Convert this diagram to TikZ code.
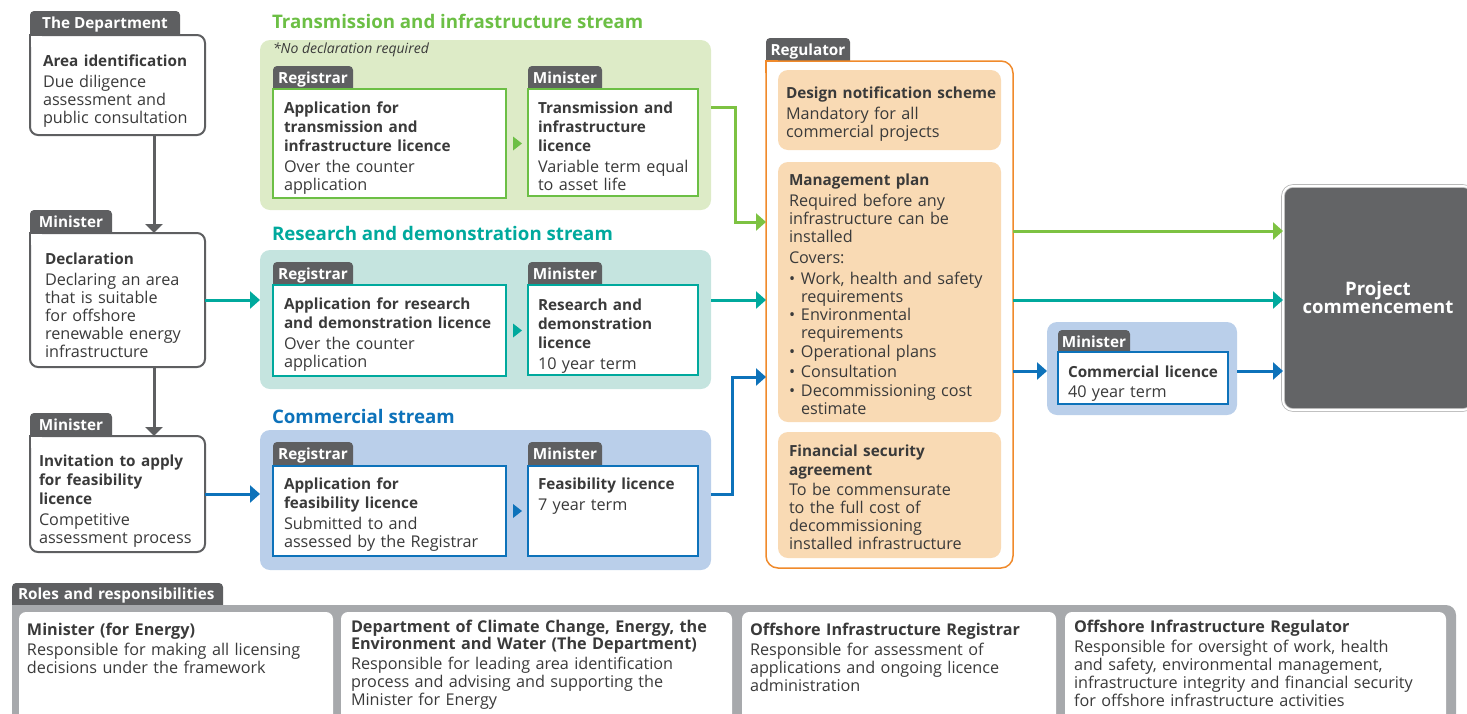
\documentclass[tikz,border=0pt]{standalone}
\usepackage{fontspec}
\setmainfont{Open Sans}
\usetikzlibrary{arrows.meta}

\definecolor{tabgray}{HTML}{5E5F61}
\definecolor{ink}{HTML}{3A3A3A}
\definecolor{grn}{HTML}{6CBF45}
\definecolor{grnline}{HTML}{7DC242}
\definecolor{grnbg}{HTML}{DDEBC7}
\definecolor{tl}{HTML}{00A99D}
\definecolor{tlbg}{HTML}{C5E4DF}
\definecolor{blu}{HTML}{0D72BA}
\definecolor{blubg}{HTML}{BACFEA}
\definecolor{orng}{HTML}{F08A2B}
\definecolor{peach}{HTML}{F9DAB4}
\definecolor{rolegray}{HTML}{A7A9AC}
\definecolor{projgray}{HTML}{636466}

\hyphenpenalty=10000
\newcommand{\boxhead}[1]{{\fontsize{15.3}{19}\bfseries #1\par}\vspace{2.5pt}}
\newcommand{\rolehead}[1]{{\fontsize{16.2}{17}\bfseries #1\par}\vspace{2.5pt}}
\newcommand{\regbullet}[1]{\par\vspace{1.5pt}\noindent\makebox[12pt][l]{•}\parbox[t]{200pt}{\raggedright #1}\par}
% square off the top left corner that sits under a tab
\newcommand{\sqcorner}[3]{%
  \fill[white] (#1.north west) rectangle ++(12,12);
  \draw[#2, line width=#3] ([yshift=-12pt]#1.north west) -- (#1.north west) -- ([xshift=12pt]#1.north west);}

\begin{document}
\begin{tikzpicture}[x=1pt,y=-1pt]
\tikzset{every node/.style={inner sep=0pt, outer sep=0pt}}
\tikzset{tabnode/.style={anchor=north west, fill=tabgray, rounded corners=4pt, text=white,
  font=\bfseries\fontsize{15.3}{16}\selectfont, minimum width=#1, text height=17.5pt, text depth=10.5pt}}
\tikzset{box/.style 2 args={anchor=north west, minimum width=#1, minimum height=#2}}
\tikzset{lbox/.style={draw=tabgray, line width=2pt, fill=white, rounded corners=8pt}}
\tikzset{sbox/.style={draw=#1, line width=1.5pt, fill=white}}
\tikzset{txt/.style={anchor=north west, text width=420pt, align=left, text=ink, font=\fontsize{16.2}{18}\selectfont}}
\tikzset{streamtitle/.style={anchor=west, text=#1, font=\bfseries\fontsize{18.7}{20}\selectfont}}
\tikzset{darr/.style={draw=tabgray, line width=3pt, -{Triangle[length=9pt,width=17pt]}}}
\tikzset{carr/.style={draw=#1, line width=3pt, -{Triangle[length=10pt,width=17pt]}}}

\useasboundingbox (0,0) rectangle (1467,713);

% left column
\node[tabnode=150pt] (depttab) at (30,11) {The Department};
\node[lbox, box={175pt}{100pt}] (area) at (30,35) {};
\sqcorner{area}{tabgray}{2pt}
\node[txt] (areatxt) at (43,55) {\boxhead{Area identification}Due diligence\\assessment and\\public consultation};

\node[tabnode=82pt] (decltab) at (30,210) {Minister};
\node[lbox, box={175pt}{134pt}] (decl) at (30,233) {};
\sqcorner{decl}{tabgray}{2pt}
\node[txt] (decltxt) at (45,253) {\boxhead{Declaration}Declaring an area\\that is suitable\\for offshore\\renewable energy\\infrastructure};

\node[tabnode=82pt] (invtab) at (30,413) {Minister};
\node[lbox, box={175pt}{116pt}] (invit) at (30,436) {};
\sqcorner{invit}{tabgray}{2pt}
\node[txt] (invtxt) at (39,455) {\boxhead{Invitation to apply\\for feasibility\\licence}Competitive\\assessment process};

% transmission stream
\node[streamtitle=grn] (ttitle) at (272,21) {Transmission and infrastructure stream};
\node[box={451pt}{170pt}, fill=grnbg, rounded corners=10pt] (tbg) at (260,40) {};
\node[anchor=west, text=ink, font=\itshape\fontsize{14}{15}\selectfont] (tnote) at (273,50) {*No declaration required};
\node[tabnode=80pt] (tregtab) at (273,66) {Registrar};
\node[tabnode=74pt] (tmintab) at (528,66) {Minister};
\node[sbox=grn, box={233pt}{109pt}] (tapp) at (273,89) {};
\node[sbox=grn, box={170pt}{107pt}] (tmin) at (528,89) {};
\fill[grn] (tapp.east) ++(7,-7) -- ++(9,7) -- ++(-9,7) -- cycle;
\node[txt] (tapptxt) at (284,102) {\boxhead{Application for\\transmission and\\infrastructure licence}Over the counter\\application};
\node[txt] (tmintxt) at (538,102) {\boxhead{Transmission and\\infrastructure\\licence}Variable term equal\\to asset life};

% research stream
\node[streamtitle=tl] (rtitle) at (272,233) {Research and demonstration stream};
\node[box={451pt}{139pt}, fill=tlbg, rounded corners=10pt] (rbg) at (260,250) {};
\node[tabnode=80pt] (rregtab) at (273,262) {Registrar};
\node[tabnode=74pt] (rmintab) at (528,262) {Minister};
\node[sbox=tl, box={233pt}{91pt}] (rapp) at (273,285) {};
\node[sbox=tl, box={170pt}{90pt}] (rmin) at (528,285) {};
\fill[tl] (rapp.east) ++(7,-7) -- ++(9,7) -- ++(-9,7) -- cycle;
\node[txt] (rapptxt) at (284,298) {\boxhead{Application for research\\and demonstration licence}Over the counter\\application};
\node[txt] (rmintxt) at (538,299) {\boxhead{Research and\\demonstration\\licence}10 year term};

% commercial stream
\node[streamtitle=blu] (ctitle) at (272,416) {Commercial stream};
\node[box={451pt}{140pt}, fill=blubg, rounded corners=10pt] (cbg) at (260,430) {};
\node[tabnode=80pt] (cregtab) at (273,442) {Registrar};
\node[tabnode=74pt] (cmintab) at (528,442) {Minister};
\node[sbox=blu, box={233pt}{90pt}] (capp) at (273,466) {};
\node[sbox=blu, box={170pt}{90pt}] (cmin) at (528,466) {};
\fill[blu] (capp.east) ++(7,-7) -- ++(9,7) -- ++(-9,7) -- cycle;
\node[txt] (capptxt) at (284,478) {\boxhead{Application for\\feasibility licence}Submitted to and\\assessed by the Registrar};
\node[txt] (cmintxt) at (538,478) {\boxhead{Feasibility licence}7 year term};

% regulator
\node[tabnode=84pt] (regtab) at (766,38) {Regulator};
\node[box={247pt}{507pt}, draw=orng, line width=1.5pt, fill=white, rounded corners=12pt] (reg) at (766,61) {};
\sqcorner{reg}{orng}{1.5pt}
\node[box={223pt}{80pt}, fill=peach, rounded corners=10pt] (dns) at (778,70) {};
\node[box={223pt}{260pt}, fill=peach, rounded corners=10pt] (mgmt) at (778,162) {};
\node[box={223pt}{126pt}, fill=peach, rounded corners=10pt] (fin) at (778,432) {};
\node[txt] (dnstxt) at (786,87) {\boxhead{Design notification scheme}Mandatory for all\\commercial projects};
\node[txt] (mgmttxt) at (789,174) {\boxhead{Management plan}Required before any\\infrastructure can be\\installed\par\vspace{3.5pt}Covers:\par\vspace{1pt}
  \regbullet{Work, health and safety\\requirements}
  \regbullet{Environmental\\requirements}
  \regbullet{Operational plans}
  \regbullet{Consultation}
  \regbullet{Decommissioning cost\\estimate}};
\node[txt] (fintxt) at (789,444.5) {\boxhead{Financial security\\agreement}To be commensurate\\to the full cost of\\decommissioning\\installed infrastructure};

% commercial licence and project
\node[box={190pt}{93pt}, fill=blubg, rounded corners=10pt] (clicbg) at (1047,322) {};
\node[tabnode=72pt] (clictab) at (1058,330) {Minister};
\node[sbox=blu, box={170pt}{52pt}] (clic) at (1058,352) {};
\node[txt] (clictxt) at (1068,365.5) {\boxhead{Commercial licence}40 year term};

\node[box={190pt}{224pt}, fill=projgray, draw=gray!55, double=white, double distance=2pt, line width=.8pt,
  rounded corners=10pt, text=white, align=center, font=\bfseries\fontsize{18.6}{18}\selectfont] (proj) at (1283,186) {Project\\commencement};

% connectors
\coordinate (gy) at (0,107);
\coordinate (gturn) at (735,222);
\coordinate (bturn) at (732,377);
\coordinate (gy2) at (0,231);
\coordinate (by) at (0,371);
\draw[darr] ([xshift=36.5pt]area.south) -- ([xshift=36.5pt]decl.north);
\draw[darr] ([xshift=36.5pt]decl.south) -- ([xshift=36.5pt]invit.north);
\draw[carr=tl] (decl.east) -- (decl.east -| rbg.west);
\draw[carr=blu] (invit.east) -- (invit.east -| cbg.west);
\draw[carr=grnline] (tbg.east |- gy) -| (gturn) -- (gturn -| reg.west);
\draw[carr=tl] (rbg.east |- decl.east) -- (reg.west |- decl.east);
\draw[carr=blu] (cbg.east |- invit.east) -| (bturn) -- (bturn -| reg.west);
\draw[carr=grnline] (reg.east |- gy2) -- (proj.west |- gy2);
\draw[carr=tl] (reg.east |- decl.east) -- (proj.west |- decl.east);
\draw[carr=blu] (reg.east |- by) -- (clicbg.west |- by);
\draw[carr=blu] (clicbg.east |- by) -- (proj.west |- by);

% roles and responsibilities
\node[tabnode=211pt, font=\bfseries\fontsize{15.3}{16}\selectfont, text height=16.5pt, text depth=9.5pt, align=left, text width=199pt] (rolestab) at (12,583) {Roles and responsibilities};
\fill[rolegray] (12,725) -- (12,605) -- (1446,605) arc[start angle=90, end angle=0, radius=10pt] -- (1456,725) -- cycle;
\node[box={314pt}{113pt}, fill=white, rounded corners=7pt] (rolemin) at (19,612) {};
\node[box={391pt}{113pt}, fill=white, rounded corners=7pt] (roledept) at (341,612) {};
\node[box={314pt}{113pt}, fill=white, rounded corners=7pt] (rolereg) at (742,612) {};
\node[box={381pt}{113pt}, fill=white, rounded corners=7pt] (rolergl) at (1065,612) {};
\node[txt] (rolemintxt) at (27,623) {\rolehead{Minister (for Energy)}Responsible for making all licensing\\decisions under the framework};
\node[txt] (roledepttxt) at (351,620) {\rolehead{Department of Climate Change, Energy, the\\Environment and Water (The Department)}Responsible for leading area identification\\process and advising and supporting the\\Minister for Energy};
\node[txt] (roleregtxt) at (750,623) {\rolehead{Offshore Infrastructure Registrar}Responsible for assessment of\\applications and ongoing licence\\administration};
\node[txt] (rolergltxt) at (1074,620) {\rolehead{Offshore Infrastructure Regulator}Responsible for oversight of work, health\\and safety, environmental management,\\infrastructure integrity and financial security\\for offshore infrastructure activities};

\end{tikzpicture}
\end{document}
